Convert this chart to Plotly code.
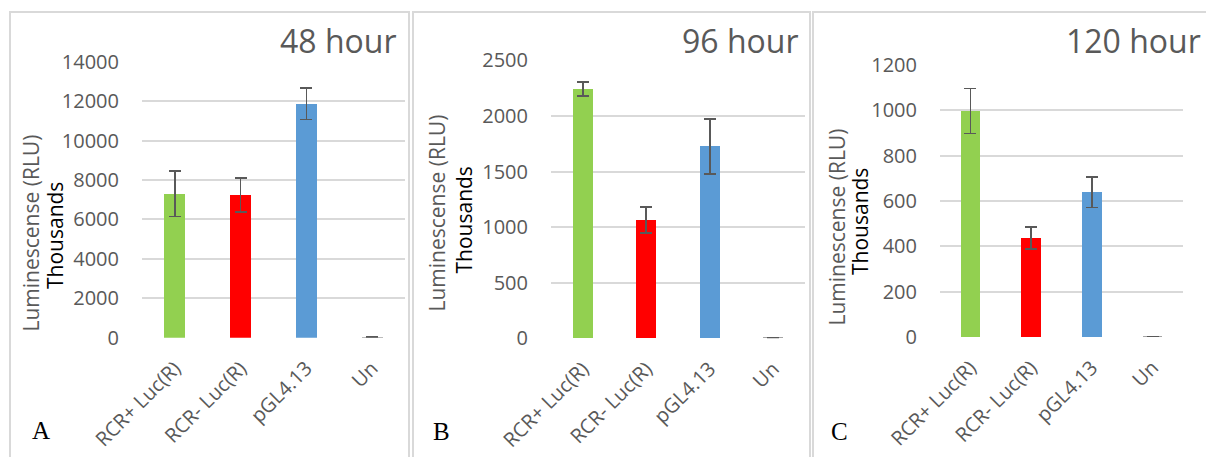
import plotly.graph_objects as go

# ---------------- data ----------------
categories = ["RCR+ Luc(R)", "RCR- Luc(R)", "pGL4.13", "Un"]
bar_colors = ["#92D050", "#FF0000", "#5B9BD5", "#A5A5A5"]

values_48h = [7300, 7250, 11860, 20]
errors_48h = [1150, 860, 800, 10]

values_96h = [2242, 1064, 1727, 3]
errors_96h = [65, 115, 247, 2]

values_120h = [997, 437, 638, 2]
errors_120h = [100, 48, 67, 1]

titles = ["48 hour", "96 hour", "120 hour"]
panel_letters = ["A", "B", "C"]
y_ranges = [[0, 14000], [0, 2500], [0, 1200]]
y_dticks = [2000, 500, 200]
y_title = "Luminescense (RLU)"
unit_label = "Thousands"

# ---------------- layout helpers (pixels -> paper) ----------------
W, H = 1206, 457
def px(x):
    return x / W
def py(y):
    return 1 - y / H

# plot-area boxes: (left, right, top, bottom) in pixels
boxes = [(142, 405, 61.7, 337.7), (551, 805, 60.3, 338.3), (940, 1183, 65, 337)]
title_right = [398, 800, 1203]
ytitle_pos = [(31, 233.5), (436, 213.5), (836, 227.5)]
unit_pos = [(55, 236), (463, 219.5), (860, 222)]
letter_pos = [(41, 430), (441, 431), (839, 431)]
panel_frames = [(10, 409, 12), (413, 810, 12), (813, 1215, 12)]

GRAY = "#595959"
GRID = "#D9D9D9"
FONT = "Open Sans"

fig = go.Figure()
all_values = [values_48h, values_96h, values_120h]
all_errors = [errors_48h, errors_96h, errors_120h]

for i in range(3):
    sfx = "" if i == 0 else str(i + 1)
    fig.add_trace(go.Bar(
        x=categories, y=all_values[i],
        marker=dict(color=bar_colors, line=dict(width=0)),
        width=0.32,
        error_y=dict(type="data", array=all_errors[i], visible=True,
                     color=GRAY, thickness=1.6, width=6),
        xaxis="x" + sfx, yaxis="y" + sfx, showlegend=False,
    ))
    l, r, t, b = boxes[i]
    fig.layout["xaxis" + sfx] = dict(
        domain=[px(l), px(r)], anchor="y" + sfx, type="category",
        range=[-0.5, 3.5], tickangle=-45, showgrid=False, zeroline=False,
        showline=False, ticks="", ticklabelstandoff=14, automargin=False,
        tickfont=dict(family=FONT, size=20, color=GRAY),
    )
    fig.layout["yaxis" + sfx] = dict(
        domain=[py(b), py(t)], anchor="x" + sfx, range=y_ranges[i],
        dtick=y_dticks[i], tick0=0, tickformat="d", showgrid=True, gridcolor=GRID,
        gridwidth=1.5, zeroline=False, showline=False, ticks="",
        ticklabelstandoff=22, automargin=False,
        tickfont=dict(family=FONT, size=20, color=GRAY),
    )
    # title
    fig.add_annotation(xref="paper", yref="paper", x=px(title_right[i]), y=py(41),
                       text=titles[i], showarrow=False, xanchor="right", yanchor="middle",
                       font=dict(family=FONT, size=32, color=GRAY))
    # y title
    fig.add_annotation(xref="paper", yref="paper", x=px(ytitle_pos[i][0]), y=py(ytitle_pos[i][1]),
                       text=y_title, showarrow=False, textangle=-90,
                       xanchor="center", yanchor="middle",
                       font=dict(family=FONT, size=21, color=GRAY))
    fig.add_annotation(xref="paper", yref="paper", x=px(unit_pos[i][0]), y=py(unit_pos[i][1]),
                       text=unit_label, showarrow=False, textangle=-90,
                       xanchor="center", yanchor="middle",
                       font=dict(family=FONT, size=21, color="#000000"))
    # panel letter
    fig.add_annotation(xref="paper", yref="paper", x=px(letter_pos[i][0]), y=py(letter_pos[i][1]),
                       text=panel_letters[i], showarrow=False,
                       xanchor="center", yanchor="middle",
                       font=dict(family="Liberation Serif", size=25, color="#000000"))
    # panel frame
    x0, x1, y0 = panel_frames[i]
    fig.add_shape(type="rect", xref="paper", yref="paper",
                  x0=px(x0), x1=px(x1), y0=py(470), y1=py(y0),
                  line=dict(color=GRID, width=2), fillcolor="rgba(0,0,0,0)", layer="below")

fig.update_layout(
    width=W, height=H, margin=dict(l=0, r=0, t=0, b=0, autoexpand=False),
    paper_bgcolor="white", plot_bgcolor="white", bargap=0,
    font=dict(family=FONT),
)

fig.write_html("out.html")
